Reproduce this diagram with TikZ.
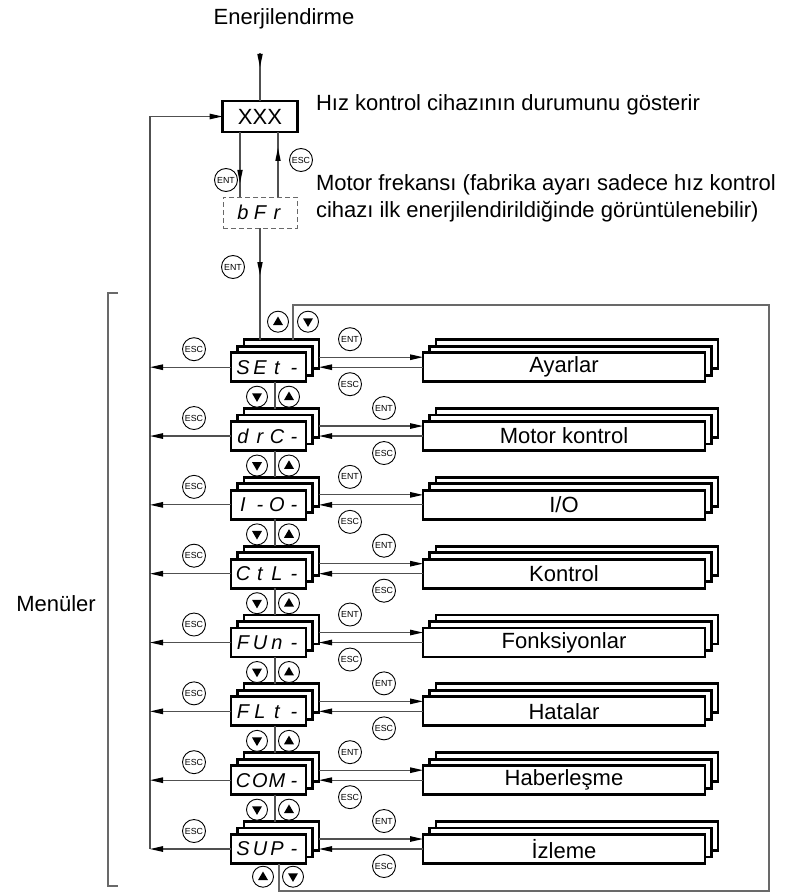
\documentclass[tikz,border=0pt]{standalone}
\usepackage{fontspec}
\setmainfont{Liberation Sans}
\usetikzlibrary{arrows.meta,decorations.markings,calc}
\definecolor{ln}{RGB}{80,80,80}
\definecolor{fr}{RGB}{105,105,105}
\newcommand\cell[1]{\makebox[17pt]{#1}}
\newcommand\iotext{I/O}
\begin{document}
\begin{tikzpicture}[x=1pt,y=-1pt,
  every node/.style={inner sep=0pt, outer sep=0pt},
  arr/.style={-{Triangle[length=13pt,width=5.5pt,color=black,fill=black]}},
  midarr/.style={postaction={decorate,decoration={markings,
      mark=at position #1 with {\fill[black] (0,0) -- (-13,2.75) -- (-13,-2.75) -- cycle;}}}},
  conn/.style={draw=ln, line width=1.2pt},
  frm/.style={draw=fr, line width=1.1pt},
  box/.style={draw=black, line width=2.8pt, fill=white, minimum height=29pt},
  mbox/.style={box, minimum width=75pt},
  bbox/.style={box, minimum width=282pt},
  lbl/.style={font=\fontsize{22}{26}\selectfont},
  seg/.style={font=\fontsize{20}{24}\selectfont\itshape},
  key/.style={circle, draw=black, line width=0.9pt, minimum size=23pt, fill=white,
      font=\fontsize{8.8}{10}\selectfont},
  tri/.style={circle, draw=black, line width=0.9pt, minimum size=21pt, fill=white},
  upkey/.style={tri, path picture={\fill[black] ($(path picture bounding box.center)+(0,-5.2)$) -- ++(5,8.6) -- ++(-10,0) -- cycle;}},
  dnkey/.style={tri, path picture={\fill[black] ($(path picture bounding box.center)+(0,5.2)$) -- ++(5,-8.6) -- ++(-10,0) -- cycle;}},
]
\useasboundingbox (0,0) rectangle (789,896);

% top part
\node[lbl, anchor=base] (pw) at (284,25) {Enerjilendirme};
\coordinate (pwt) at (260,53);
\node[box, minimum width=75pt, minimum height=31pt, lbl] (xxx) at (260,116.5) {XXX};
\node[lbl, anchor=base west] (st) at (316,111) {Hız kontrol cihazının durumunu gösterir};
\node[lbl, anchor=base west] (mf1) at (316,190) {Motor frekansı (fabrika ayarı sadece hız kontrol};
\node[lbl, anchor=base west] (mf2) at (316,217) {cihazı ilk enerjilendirildiğinde görüntülenebilir)};
\node[draw=fr, dash pattern=on 5pt off 3pt, line width=1pt, minimum width=74pt, minimum height=31pt, seg]
  (bfr) at (260,212.5) {\cell{b}\cell{F}\cell{r}};

\node[key] (entA) at (226,180) {ENT};
\node[key] (escA) at (301,160) {ESC};
\node[key] (entB) at (233,267) {ENT};

% rows
\foreach \i/\code/\name/\ex in {
  0/{\cell{S}\cell{E}\cell{t}\cell{-}}/Ayarlar/350,
  1/{\cell{d}\cell{r}\cell{C}\cell{-}}/Motor kontrol/384,
  2/{\cell{I}\cell{-}\cell{O}\cell{-}}/\iotext/350,
  3/{\cell{C}\cell{t}\cell{L}\cell{-}}/Kontrol/384,
  4/{\cell{F}\cell{U}\cell{n}\cell{-}}/Fonksiyonlar/350,
  5/{\cell{F}\cell{L}\cell{t}\cell{-}}/Hatalar/384,
  6/{\cell{C}\cell{O}\cell{M}\cell{-}}/Haberleşme/350,
  7/{\cell{S}\cell{U}\cell{P}\cell{-}}/İzleme/384}{
  \pgfmathsetmacro\c{367.2+68.83*\i}
  \node[mbox] (mb\i) at (281.5,\c-13) {};
  \node[mbox] (mm\i) at (275,\c-6.5) {};
  \node[mbox, seg] (m\i) at (268.5,\c) {\code};
  \node[bbox] (bb\i) at (577,\c-13) {};
  \node[bbox] (bm\i) at (570.5,\c-6.5) {};
  \node[bbox, lbl] (b\i) at (564,\c) {\name};
  \node[key] (ent\i) at (\ex,\c-28) {ENT};
  \node[key] (esc\i) at (\ex,\c+17) {ESC};
  \node[key] (lesc\i) at (194,\c-18) {ESC};
  \coordinate (e\i) at ($(mb\i.east)+(0,3)$);
  \draw[conn, arr] (e\i) -- (e\i -| b\i.west);
  \draw[conn, arr] (b\i.west) -- (b\i.west -| mb\i.east);
}

% left return line
\coordinate (lt) at (150,116.5);
\draw[conn] (lt) -- (lt |- m7.west);
\draw[conn, arr] (lt) -- (xxx.west);
\foreach \i in {0,...,7}{
  \draw[conn, arr] (m\i.west) -- (m\i.west -| lt);
}

% vertical links between menus
\foreach \i [evaluate=\i as \j using int(\i+1)] in {0,...,6}{
  \draw[conn] (mm\i |- m\i.south) -- (mm\i |- mb\j.north);
  \node[dnkey] (dk\i) at ($(mm\i |- m\i.south)+(-18,15)$) {};
  \node[upkey] (uk\i) at ($(mm\i |- m\i.south)+(14,15)$) {};
}

% top arrows
\draw[conn, midarr=14pt] (pwt) -- (xxx.north);
\draw[conn, midarr=51pt] ($(xxx.south)+(-20,0)$) -- ($(bfr.north)+(-20,0)$);
\draw[conn, midarr=49pt] ($(bfr.north)+(18,0)$) -- ($(xxx.south)+(18,0)$);
\draw[conn, midarr=47pt] (bfr.south) -- (bfr.south |- mb0.north);

% frame
\coordinate (ftl) at (293,305);
\coordinate (fbr) at (769,891);
\coordinate (fb) at (279,891);
\draw[frm] (ftl |- mb0.north) -- (ftl) -| (fbr) -- (fb) -- (fb |- m7.south);
\node[upkey] (ukT) at (278,321.7) {};
\node[dnkey] (dkT) at (308,321.7) {};
\node[upkey] (ukB) at (263,876.7) {};
\node[dnkey] (dkB) at (293,876.7) {};

% bracket
\coordinate (br1) at (118,293);
\coordinate (br2) at (118,886);
\draw[frm] (br1) -- ++(-10,0) -- ($(br2)+(-10,0)$) -- (br2);
\node[lbl] (men) at (56,604) {Menüler};
\end{tikzpicture}
\end{document}
